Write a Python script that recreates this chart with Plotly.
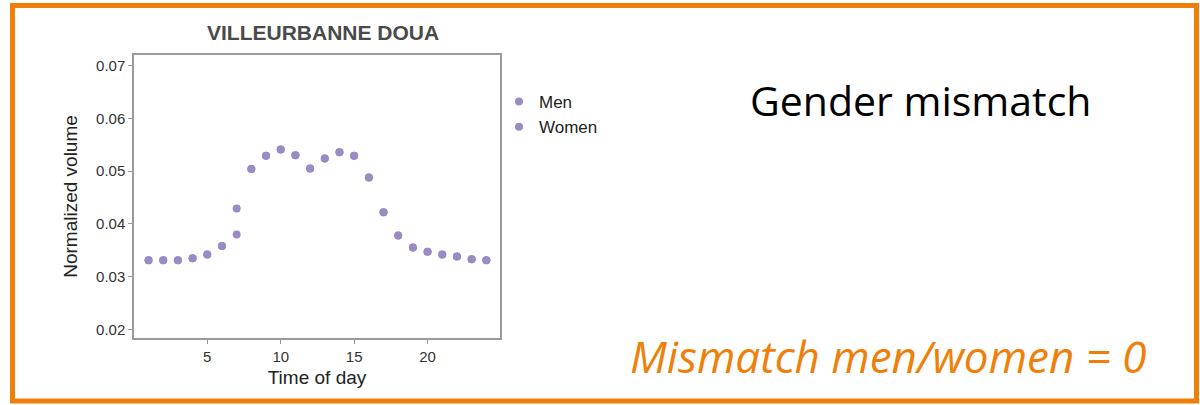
import plotly.graph_objects as go

hours = list(range(1, 25))
men = [0.0331, 0.0331, 0.0331, 0.0335, 0.0342, 0.0358, 0.0429, 0.0504, 0.0529, 0.0541,
       0.0530, 0.0505, 0.0524, 0.0536, 0.0529, 0.0488, 0.0422, 0.0378, 0.0355, 0.0347,
       0.0342, 0.0338, 0.0333, 0.0331]
women = [0.0331, 0.0331, 0.0331, 0.0335, 0.0342, 0.0358, 0.0380, 0.0504, 0.0529, 0.0541,
         0.0530, 0.0505, 0.0524, 0.0536, 0.0529, 0.0488, 0.0422, 0.0378, 0.0355, 0.0347,
         0.0342, 0.0338, 0.0333, 0.0331]
x_ticks = [5, 10, 15, 20]
y_ticks = [0.02, 0.03, 0.04, 0.05, 0.06, 0.07]
y_tick_labels = ["0.02", "0.03", "0.04", "0.05", "0.06", "0.07"]

PURPLE = "#9A8BC3"
ORANGE = "#F07F0A"
W, H = 1200, 405
L, R, T, B = 134, 500, 55, 338


def px(x):
    return (x - L) / (R - L)


def py(y):
    return (B - y) / (B - T)


fig = go.Figure()
fig.add_trace(go.Scatter(x=hours, y=men, mode="markers", name="Men",
                         marker=dict(color=PURPLE, size=8, line=dict(width=0))))
fig.add_trace(go.Scatter(x=hours, y=women, mode="markers", name="Women",
                         marker=dict(color=PURPLE, size=8, line=dict(width=0))))

axis_common = dict(showline=True, linecolor="#9a9a9a", linewidth=1.5, mirror=True,
                   ticks="outside", ticklen=4, tickcolor="#9a9a9a", tickwidth=1,
                   showgrid=False, zeroline=False,
                   tickfont=dict(family="Liberation Sans", size=15, color="#333333"))

fig.update_layout(
    width=W, height=H,
    margin=dict(l=L, r=W - R, t=T, b=H - B),
    paper_bgcolor="white", plot_bgcolor="white",
    xaxis=dict(range=[0.01, 24.93], tickvals=x_ticks,
               title=dict(text="Time of day", standoff=7,
                          font=dict(family="Liberation Sans", size=19, color="#222222")),
               **axis_common),
    yaxis=dict(range=[0.01835, 0.07203], tickvals=y_ticks, ticktext=y_tick_labels,
               title=dict(text="Normalized volume", standoff=13,
                          font=dict(family="Liberation Sans", size=19, color="#222222")),
               **axis_common),
    legend=dict(x=px(499), y=py(84), xanchor="left", yanchor="top",
                font=dict(family="Liberation Sans", size=17, color="#222222"),
                bgcolor="rgba(0,0,0,0)", itemwidth=30, tracegroupgap=0),
    showlegend=True,
)

fig.add_annotation(x=px(323), y=py(33), xref="paper", yref="paper",
                   text="<b>VILLEURBANNE DOUA</b>", showarrow=False,
                   font=dict(family="Liberation Sans", size=21, color="#4a4a4a"),
                   xanchor="center", yanchor="middle")
fig.add_annotation(x=px(920), y=py(100), xref="paper", yref="paper",
                   text="Gender mismatch", showarrow=False,
                   font=dict(family="Open Sans", size=41, color="#000000"),
                   xanchor="center", yanchor="middle")
fig.add_annotation(x=px(888), y=py(356), xref="paper", yref="paper",
                   text="<i>Mismatch men/women = 0</i>", showarrow=False,
                   font=dict(family="Open Sans", size=44, color=ORANGE),
                   xanchor="center", yanchor="middle")

fig.add_shape(type="rect", xref="paper", yref="paper",
              x0=px(12.5), x1=px(1196.5), y0=py(401), y1=py(5.5),
              line=dict(color=ORANGE, width=5), fillcolor="rgba(0,0,0,0)", layer="above")

fig.write_html("out.html", config={"displayModeBar": False},
               post_script="document.body.style.margin='0';")
